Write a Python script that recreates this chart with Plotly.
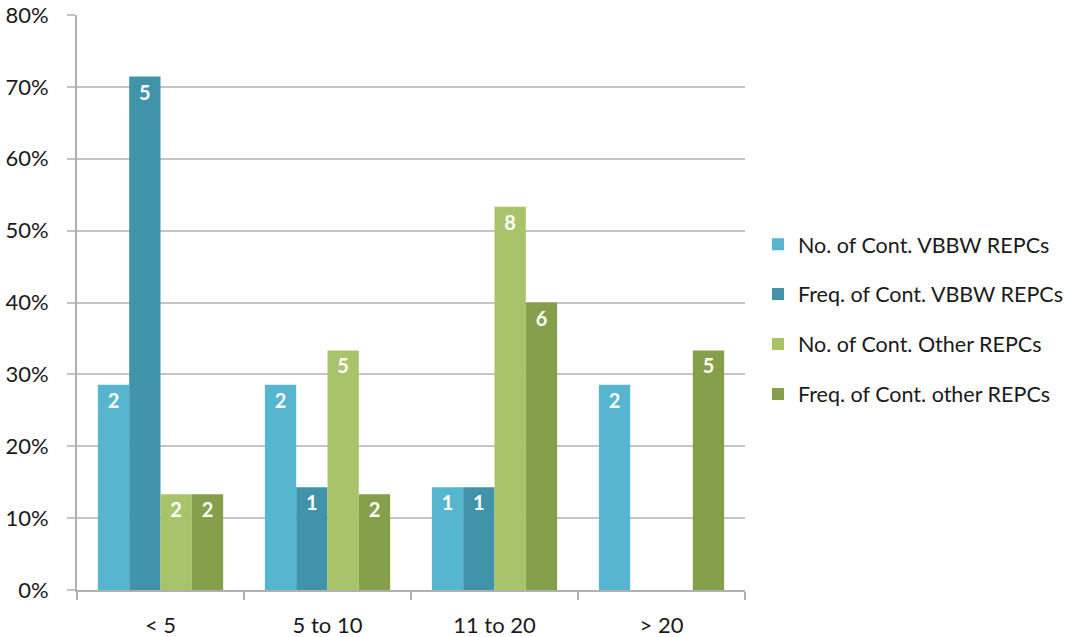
import plotly.graph_objects as go

categories = ["< 5", "5 to 10", "11 to 20", "> 20"]
series_names = [
    "No. of Cont. VBBW REPCs",
    "Freq. of Cont. VBBW REPCs",
    "No. of Cont. Other REPCs",
    "Freq. of Cont. other REPCs",
]
# percentage values (fraction)
no_vbbw = [2/7, 2/7, 1/7, 2/7]
freq_vbbw = [5/7, 1/7, 1/7, 0]
no_other = [2/15, 5/15, 8/15, 0]
freq_other = [2/15, 2/15, 6/15, 5/15]
# count labels
lbl_no_vbbw = ["2", "2", "1", "2"]
lbl_freq_vbbw = ["5", "1", "1", ""]
lbl_no_other = ["2", "5", "8", ""]
lbl_freq_other = ["2", "2", "6", "5"]

colors = ["#56b5cf", "#4193aa", "#a9c36a", "#869f4a"]
FONT = "Lato"

fig = go.Figure()
for i, (name, vals, lbls) in enumerate(zip(
        series_names,
        [no_vbbw, freq_vbbw, no_other, freq_other],
        [lbl_no_vbbw, lbl_freq_vbbw, lbl_no_other, lbl_freq_other])):
    fig.add_trace(go.Bar(
        x=categories, y=vals, name=name, text=lbls,
        textposition="inside", insidetextanchor="end",
        textfont=dict(color="white", size=20, family=FONT, weight="bold"),
        marker=dict(color=colors[i], line=dict(width=0)),
        legendgroup=str(i),
        cliponaxis=False,
    ))

fig.update_layout(
    barmode="group",
    bargap=0.25,
    bargroupgap=0,
    width=1088, height=637,
    margin=dict(l=77, r=343, t=15, b=47, autoexpand=False),
    plot_bgcolor="white", paper_bgcolor="white",
    font=dict(family=FONT, size=22, color="#1a1a1a"),
    uniformtext=dict(minsize=16, mode="show"),
    legend=dict(
        x=(745 + 13) / 1088, xref="container", xanchor="left",
        y=0.471, yanchor="middle",
        font=dict(size=21.5, color="#1a1a1a"),
        tracegroupgap=19, itemwidth=30,
    ),
    showlegend=True,
)
fig.update_yaxes(
    range=[0, 0.8], dtick=0.1, tickformat=".0%",
    showgrid=True, gridcolor="#c4c4c4", gridwidth=2,
    showline=True, linecolor="#b0b0b0", linewidth=2,
    ticks="outside", ticklen=8, tickcolor="#c4c4c4", tickwidth=2,
    ticklabelstandoff=14, automargin=False,
    tickfont=dict(size=22), zeroline=False,
)
fig.update_xaxes(
    showline=True, linecolor="#b0b0b0", linewidth=2,
    ticks="outside", ticklen=8, tickcolor="#b0b0b0", tickwidth=2,
    tickson="boundaries", ticklabelstandoff=15, automargin=False,
    tickfont=dict(size=22),
)

fig.write_html("out.html")
